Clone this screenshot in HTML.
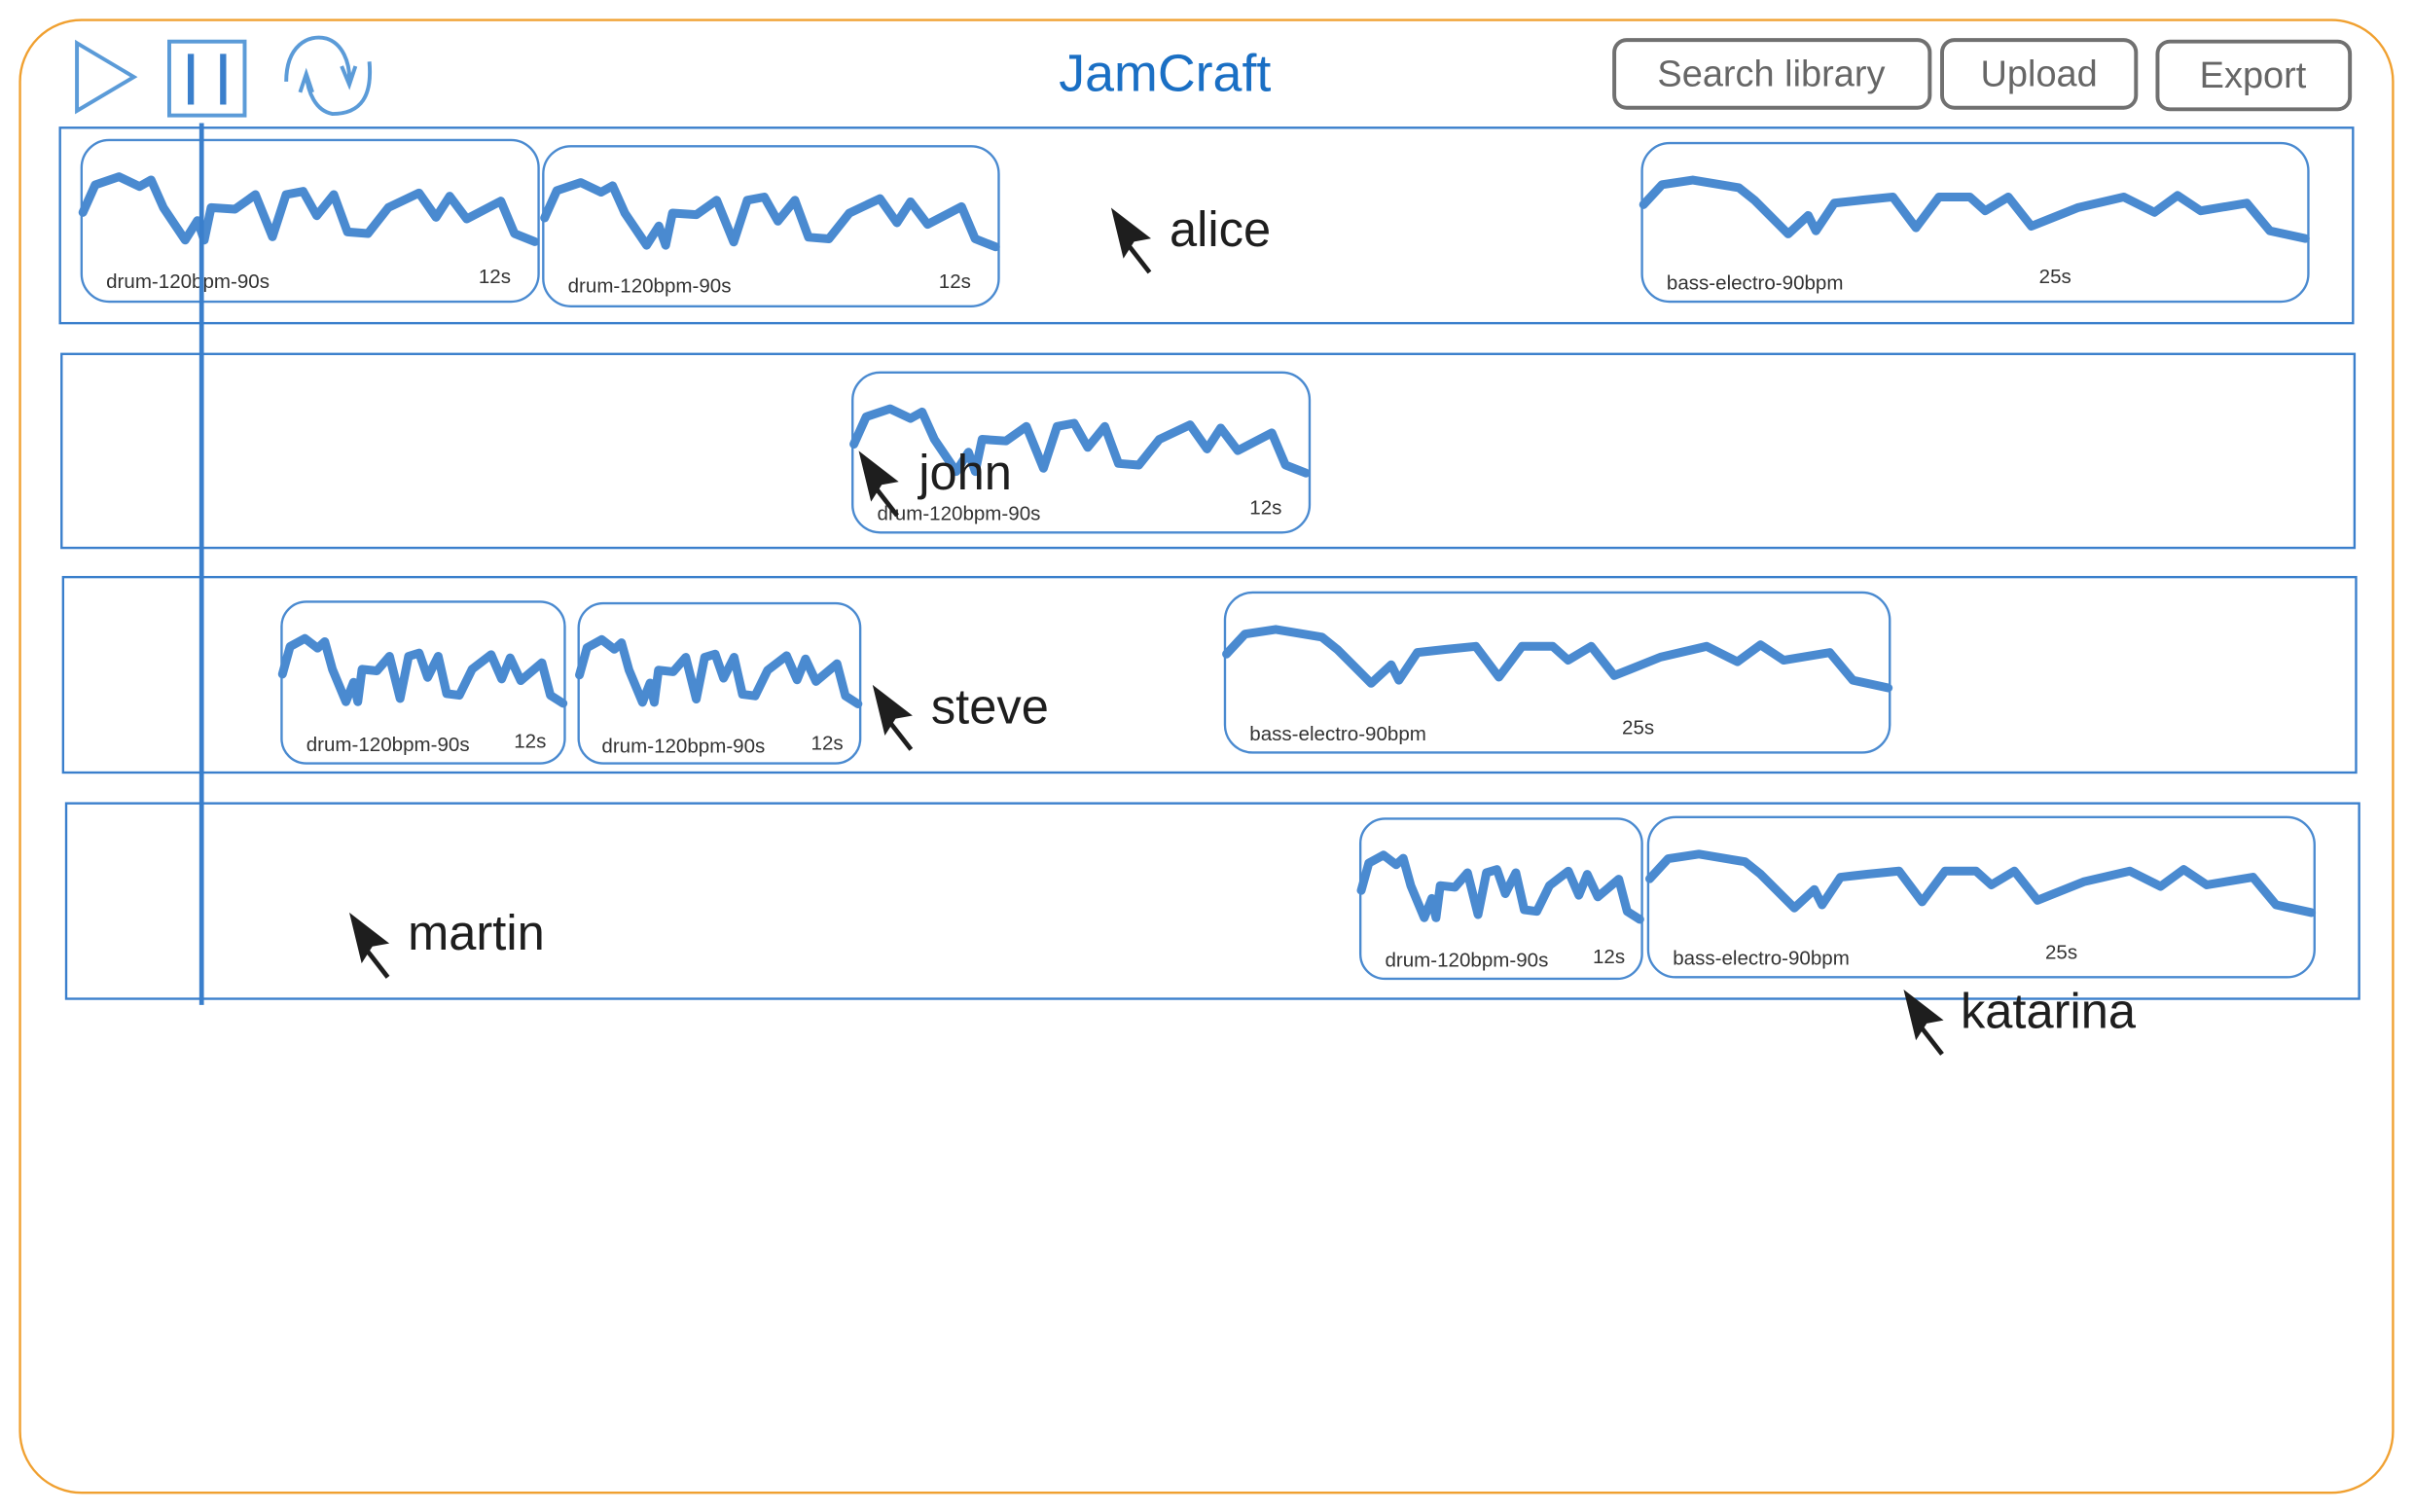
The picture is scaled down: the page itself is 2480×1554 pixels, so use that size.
<!DOCTYPE html>
<html><head><meta charset="utf-8"><style>
html,body{margin:0;padding:0;background:#fff;}
svg{display:block;}
text{font-family:"Liberation Sans",sans-serif;}
</style></head><body>
<svg width="2480" height="1554" viewBox="0 0 1568 982.5" preserveAspectRatio="none" xmlns="http://www.w3.org/2000/svg">
<defs>
<path id="drum" d="M2,223 L20,138 L55,113 L85,143 L102,123 L120,208 L152,308 L170,248 L180,308 L190,208 L225,213 L255,168 L280,298 L300,168 L325,158 L345,233 L370,168 L390,283 L420,288 L450,208 L495,163 L520,238 L540,173 L565,243 L615,188 L635,288 L665,313" fill="none" stroke="#4a8ad0" stroke-width="9" stroke-linejoin="round" stroke-linecap="round" vector-effect="non-scaling-stroke"/>
<path id="bass" d="M1,40 L13,27 L33,24 L63,29 L73,37 L95,59 L108,47 L113,57 L125,39 L143,37 L163,35 L178,55 L193,35 L213,35 L223,44 L238,35 L253,54 L263,50 L283,42 L313,35 L333,45 L348,34 L363,44 L393,39 L408,57 L431,62" fill="none" stroke="#4a8ad0" stroke-width="9" stroke-linejoin="round" stroke-linecap="round" vector-effect="non-scaling-stroke"/>
<g id="cur"><polygon points="0,0 26,20 15,22 8,33" fill="#1e1e1e"/><line x1="11" y1="24" x2="25" y2="42" stroke="#1e1e1e" stroke-width="3"/></g>
</defs>
<rect x="13" y="13" width="1542" height="957" rx="40" fill="none" stroke="#f0a030" stroke-width="1.5"/>
<polygon points="50,28 87,50 50,72" fill="none" stroke="#5b9bd8" stroke-width="2.5"/>
<rect x="110" y="27" width="49" height="48" fill="none" stroke="#5b9bd8" stroke-width="2.5"/>
<line x1="124" y1="35" x2="124" y2="68" stroke="#3a7fcc" stroke-width="4"/>
<line x1="145" y1="35" x2="145" y2="68" stroke="#3a7fcc" stroke-width="4"/>
<path d="M186,53 C186,30 200,22 212,25 C222,28 228,40 227,55 M222,43 L227,55 L231,43 M240,40 C242,62 235,74 216,74 C205,72 200,60 199,48 M195,60 L199,48 L203,60" fill="none" stroke="#5b9bd8" stroke-width="2.5"/>
<text x="757" y="59" font-size="34" fill="#1a6fc4" text-anchor="middle">JamCraft</text>
<g fill="none" stroke="#707070" stroke-width="2.5">
<rect x="1049" y="26" width="205" height="44" rx="8"/>
<rect x="1262" y="26" width="126" height="44" rx="8"/>
<rect x="1402" y="27" width="125" height="44" rx="8"/>
</g>
<g font-size="24" fill="#666" text-anchor="middle">
<text x="1151" y="56">Search library</text>
<text x="1325" y="56">Upload</text>
<text x="1464" y="57">Export</text>
</g>
<g fill="none" stroke="#3a7fcc" stroke-width="1.5">
<rect x="39" y="83" width="1490" height="127"/>
<rect x="40" y="230" width="1490" height="126"/>
<rect x="41" y="375" width="1490" height="127"/>
<rect x="43" y="522" width="1490" height="127"/>
</g>
<g fill="none" stroke="#4a8ad0" stroke-width="1.5">
<rect x="53" y="91" width="297" height="105" rx="18"/>
<rect x="353" y="95" width="296" height="104" rx="18"/>
<rect x="1067" y="93" width="433" height="103" rx="18"/>
<rect x="554" y="242" width="297" height="104" rx="18"/>
<rect x="183" y="391" width="184" height="105" rx="16"/>
<rect x="376" y="392" width="183" height="104" rx="16"/>
<rect x="796" y="385" width="432" height="104" rx="18"/>
<rect x="884" y="532" width="183" height="104" rx="16"/>
<rect x="1071" y="531" width="433" height="104" rx="18"/>
</g>
<use href="#drum" transform="translate(53,91) scale(0.443,0.211)"/>
<use href="#drum" transform="translate(353,95) scale(0.442,0.209)"/>
<use href="#drum" transform="translate(554,242) scale(0.443,0.209)"/>
<use href="#drum" transform="translate(183,391) scale(0.275,0.211)"/>
<use href="#drum" transform="translate(376,392) scale(0.273,0.209)"/>
<use href="#drum" transform="translate(884,532) scale(0.273,0.209)"/>
<use href="#bass" transform="translate(1067,93)"/>
<use href="#bass" transform="translate(796,385)"/>
<use href="#bass" transform="translate(1071,531)"/>
<g font-size="13" fill="#333">
<text x="69" y="187">drum-120bpm-90s</text><text x="311" y="184">12s</text>
<text x="369" y="190">drum-120bpm-90s</text><text x="610" y="187">12s</text>
<text x="1083" y="188">bass-electro-90bpm</text><text x="1325" y="184">25s</text>
<text x="570" y="338">drum-120bpm-90s</text><text x="812" y="334">12s</text>
<text x="199" y="488">drum-120bpm-90s</text><text x="334" y="486">12s</text>
<text x="391" y="489">drum-120bpm-90s</text><text x="527" y="487">12s</text>
<text x="812" y="481">bass-electro-90bpm</text><text x="1054" y="477">25s</text>
<text x="900" y="628">drum-120bpm-90s</text><text x="1035" y="626">12s</text>
<text x="1087" y="627">bass-electro-90bpm</text><text x="1329" y="623">25s</text>
</g>
<line x1="131" y1="80" x2="131" y2="653" stroke="#3a7fcc" stroke-width="3"/>
<use href="#cur" transform="translate(722,135)"/>
<use href="#cur" transform="translate(558,293)"/>
<use href="#cur" transform="translate(567,445)"/>
<use href="#cur" transform="translate(227,593)"/>
<use href="#cur" transform="translate(1237,643)"/>
<g font-size="32" fill="#1e1e1e">
<text x="760" y="160">alice</text>
<text x="597" y="318">john</text>
<text x="605" y="470">steve</text>
<text x="265" y="617">martin</text>
<text x="1274" y="668">katarina</text>
</g>
</svg>
</body></html>
